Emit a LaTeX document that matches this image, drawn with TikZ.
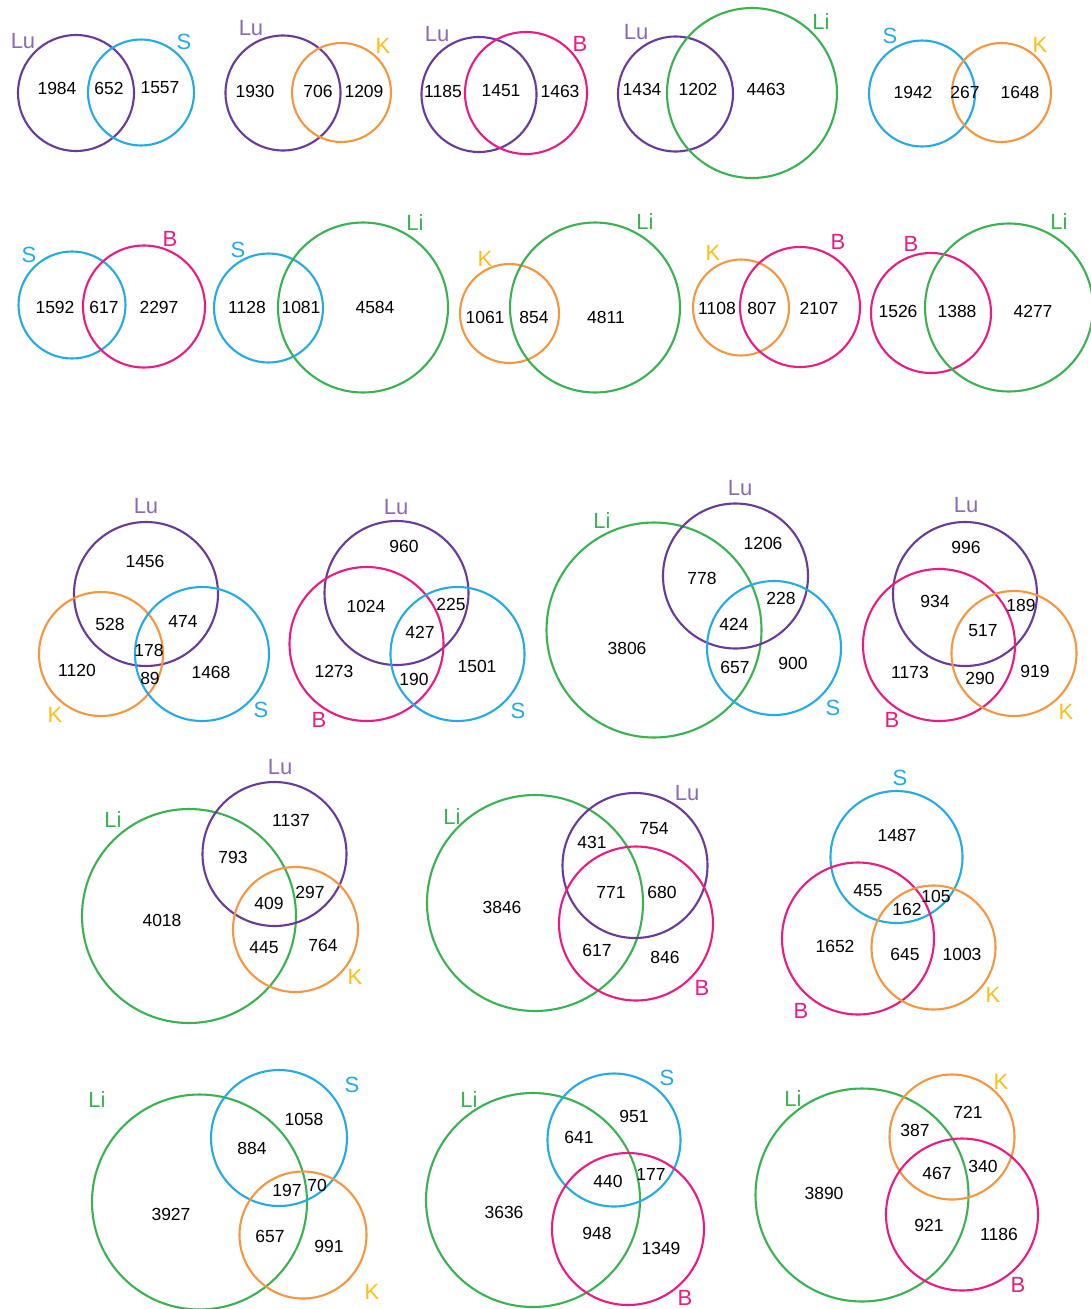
\documentclass[tikz,border=0pt]{standalone}
\usepackage{fontspec}
\setmainfont{Liberation Sans}
\definecolor{luC}{RGB}{106,58,152}
\definecolor{luT}{RGB}{140,104,182}
\definecolor{sC}{RGB}{38,170,226}
\definecolor{kC}{RGB}{247,150,64}
\definecolor{kT}{RGB}{255,190,20}
\definecolor{bC}{RGB}{232,28,132}
\definecolor{liC}{RGB}{58,178,82}
\newcommand\vcirc[4]{\draw[#1] (#2,#3) circle [radius=#4pt];}
\newcommand\vnum[4]{\node[numtxt] (#1) at (#2,#3) {#4};}
\newcommand\vlbl[5]{\node[lbltxt,#2] (#1) at (#3,#4) {#5};}
\begin{document}
\begin{tikzpicture}[x=1pt,y=-1pt,
  ring/.style={line width=2.1pt},
  lu/.style={ring,draw=luC}, ss/.style={ring,draw=sC}, kk/.style={ring,draw=kC},
  bb/.style={ring,draw=bC}, li/.style={ring,draw=liC},
  numtxt/.style={inner sep=0pt,font=\fontsize{17.5}{20}\selectfont,text=black},
  lbltxt/.style={inner sep=0pt,font=\fontsize{22}{26}\selectfont},
  tlu/.style={text=luT}, ts/.style={text=sC}, tk/.style={text=kT},
  tb/.style={text=bC}, tli/.style={text=liC}]
\useasboundingbox[fill=white] (0,0) rectangle (1090,1309);
% ---------- Row 1 ----------
% D1
\vcirc{lu}{76}{93}{58} \vcirc{ss}{141}{92.5}{53}
\vlbl{a1}{tlu}{23}{41}{Lu} \vlbl{a2}{ts}{184}{42}{S}
\vnum{a3}{57}{88}{1984} \vnum{a4}{109}{88}{652} \vnum{a5}{160}{88}{1557}
% D2
\vcirc{lu}{283}{93}{57.5} \vcirc{kk}{341.5}{92.5}{49.5}
\vlbl{b1}{tlu}{251}{28}{Lu} \vlbl{b2}{tk}{383}{46}{K}
\vnum{b3}{255}{91}{1930} \vnum{b4}{318}{91}{706} \vnum{b5}{364}{91}{1209}
% D3
\vcirc{lu}{479}{94.5}{57.5} \vcirc{bb}{526}{93}{61}
\vlbl{c1}{tlu}{437}{34}{Lu} \vlbl{c2}{tb}{580}{44}{B}
\vnum{c3}{443}{91}{1185} \vnum{c4}{501}{91}{1451} \vnum{c5}{560}{91}{1463}
% D4
\vcirc{lu}{675.5}{94}{57.5} \vcirc{li}{752}{93}{85}
\vlbl{d1}{tlu}{636}{32}{Lu} \vlbl{d2}{tli}{821}{22}{Li}
\vnum{d3}{642}{89}{1434} \vnum{d4}{698}{89}{1202} \vnum{d5}{766}{89}{4463}
% D5
\vcirc{ss}{922}{93.5}{53} \vcirc{kk}{1001.5}{92.5}{49.5}
\vlbl{e1}{ts}{890}{36}{S} \vlbl{e2}{tk}{1040}{45}{K}
\vnum{e3}{913}{92}{1942} \vnum{e4}{965}{92}{267} \vnum{e5}{1020}{92}{1648}
% ---------- Row 2 ----------
% D6
\vcirc{ss}{72}{305}{53.5} \vcirc{bb}{144}{306.5}{61}
\vlbl{f1}{ts}{29}{255}{S} \vlbl{f2}{tb}{170}{239}{B}
\vnum{f3}{55}{307}{1592} \vnum{f4}{104}{307}{617} \vnum{f5}{159}{307}{2297}
% D7
\vcirc{ss}{268.5}{308}{54.5} \vcirc{li}{363}{307.5}{85}
\vlbl{g1}{ts}{238}{250}{S} \vlbl{g2}{tli}{415}{223}{Li}
\vnum{g3}{247}{307}{1128} \vnum{g4}{301}{307}{1081} \vnum{g5}{375}{307}{4584}
% D8
\vcirc{kk}{509.5}{313.5}{49.5} \vcirc{li}{595}{307.5}{85}
\vlbl{h1}{tk}{485}{259}{K} \vlbl{h2}{tli}{645}{222}{Li}
\vnum{h3}{485}{317}{1061} \vnum{h4}{534}{317}{854} \vnum{h5}{606}{317}{4811}
% D9
\vcirc{kk}{741}{307.5}{48} \vcirc{bb}{800}{307}{60}
\vlbl{i1}{tk}{713}{253}{K} \vlbl{i2}{tb}{838}{242}{B}
\vnum{i3}{717}{308}{1108} \vnum{i4}{762}{308}{807} \vnum{i5}{819}{308}{2107}
% D10
\vcirc{bb}{931}{313}{60} \vcirc{li}{1009}{307.5}{84}
\vlbl{j1}{tb}{911}{244}{B} \vlbl{j2}{tli}{1059}{222}{Li}
\vnum{j3}{898}{311}{1526} \vnum{j4}{957}{311}{1388} \vnum{j5}{1033}{311}{4277}
% ---------- Row 3 ----------
% D11
\vcirc{lu}{146}{594}{72} \vcirc{kk}{101}{654}{62} \vcirc{ss}{202}{654}{67}
\vlbl{k1}{tlu}{146}{506}{Lu} \vlbl{k2}{tk}{55}{715}{K} \vlbl{k3}{ts}{261}{710}{S}
\vnum{k4}{145}{561}{1456} \vnum{k5}{110}{624}{528} \vnum{k6}{183}{621}{474}
\vnum{k7}{149}{650}{178} \vnum{k8}{150}{678}{89} \vnum{k9}{77}{670}{1120}
\vnum{k10}{211}{672}{1468}
% D12
\vcirc{lu}{396.5}{593}{72} \vcirc{bb}{366.5}{644}{77} \vcirc{ss}{457.5}{654}{67}
\vlbl{l1}{tlu}{396}{507}{Lu} \vlbl{l2}{tb}{319}{720}{B} \vlbl{l3}{ts}{518}{711}{S}
\vnum{l4}{404}{546}{960} \vnum{l5}{366}{606}{1024} \vnum{l6}{451}{604}{225}
\vnum{l7}{420}{632}{427} \vnum{l8}{334}{671}{1273} \vnum{l9}{414}{679}{190}
\vnum{l10}{477}{666}{1501}
% D13
\vcirc{li}{654}{630}{107.5} \vcirc{lu}{735.5}{576}{72.5} \vcirc{ss}{774}{648}{67}
\vlbl{m1}{tlu}{740}{488}{Lu} \vlbl{m2}{tli}{602}{521}{Li} \vlbl{m3}{ts}{833}{708}{S}
\vnum{m4}{763}{543}{1206} \vnum{m5}{702}{578}{778} \vnum{m6}{781}{598}{228}
\vnum{m7}{734}{624}{424} \vnum{m8}{627}{648}{3806} \vnum{m9}{735}{667}{657}
\vnum{m10}{793}{663}{900}
% D14
\vcirc{lu}{965}{594}{72} \vcirc{bb}{939}{645}{76} \vcirc{kk}{1014}{653.5}{62.5}
\vlbl{n1}{tlu}{966}{505}{Lu} \vlbl{n2}{tb}{892}{720}{B} \vlbl{n3}{tk}{1066}{712}{K}
\vnum{n4}{966}{547}{996} \vnum{n5}{935}{601}{934} \vnum{n6}{1021}{605}{189}
\vnum{n7}{983}{631}{517} \vnum{n8}{910}{672}{1173} \vnum{n9}{980}{678}{290}
\vnum{n10}{1035}{671}{919}
% ---------- Row 4 ----------
% D15
\vcirc{li}{189}{916}{107} \vcirc{lu}{274.5}{854}{72} \vcirc{kk}{295.5}{929.5}{62.5}
\vlbl{o1}{tlu}{280}{767}{Lu} \vlbl{o2}{tli}{113}{820}{Li} \vlbl{o3}{tk}{355}{977}{K}
\vnum{o4}{291}{820}{1137} \vnum{o5}{233}{857}{793} \vnum{o6}{310}{892}{297}
\vnum{o7}{269}{903}{409} \vnum{o8}{162}{920}{4018} \vnum{o9}{264}{948}{445}
\vnum{o10}{323}{945}{764}
% D16
\vcirc{li}{535}{903}{108} \vcirc{lu}{635}{865.5}{72.5} \vcirc{bb}{636}{923.5}{77}
\vlbl{p1}{tlu}{687}{793}{Lu} \vlbl{p2}{tli}{452}{817}{Li} \vlbl{p3}{tb}{702}{988}{B}
\vnum{p4}{654}{829}{754} \vnum{p5}{592}{842}{431} \vnum{p6}{611}{892}{771}
\vnum{p7}{662}{892}{680} \vnum{p8}{502}{907}{3846} \vnum{p9}{597}{950}{617}
\vnum{p10}{665}{957}{846}
% D17
\vcirc{ss}{896.5}{857}{66} \vcirc{bb}{858}{938.5}{76} \vcirc{kk}{933.5}{947.5}{62}
\vlbl{q1}{ts}{900}{778}{S} \vlbl{q2}{tb}{801}{1011}{B} \vlbl{q3}{tk}{993}{995}{K}
\vnum{q4}{897}{835}{1487} \vnum{q5}{868}{891}{455} \vnum{q6}{936}{896}{105}
\vnum{q7}{907}{909}{162} \vnum{q8}{835}{946}{1652} \vnum{q9}{905}{954}{645}
\vnum{q10}{962}{954}{1003}
% ---------- Row 5 ----------
% D18
\vcirc{li}{199.5}{1202}{107.5} \vcirc{ss}{279}{1138}{68} \vcirc{kk}{303}{1235}{63.5}
\vlbl{r1}{ts}{352}{1085}{S} \vlbl{r2}{tli}{97}{1100}{Li} \vlbl{r3}{tk}{372}{1292}{K}
\vnum{r4}{304}{1119}{1058} \vnum{r5}{252}{1148}{884} \vnum{r6}{287}{1190}{197}
\vnum{r7}{317}{1185}{70} \vnum{r8}{171}{1214}{3927} \vnum{r9}{270}{1236}{657}
\vnum{r10}{329}{1246}{991}
% D19
\vcirc{li}{533}{1200}{107} \vcirc{ss}{614}{1140}{66.5} \vcirc{bb}{628}{1229}{76}
\vlbl{s1}{ts}{667}{1078}{S} \vlbl{s2}{tli}{469}{1100}{Li} \vlbl{s3}{tb}{685}{1298}{B}
\vnum{s4}{634}{1116}{951} \vnum{s5}{579}{1137}{641} \vnum{s6}{608}{1181}{440}
\vnum{s7}{651}{1174}{177} \vnum{s8}{504}{1212}{3636} \vnum{s9}{597}{1233}{948}
\vnum{s10}{661}{1248}{1349}
% D20
\vcirc{li}{862}{1195}{106.5} \vcirc{kk}{952}{1137}{62.5} \vcirc{bb}{962}{1214.5}{76}
\vlbl{t1}{tk}{1001}{1082}{K} \vlbl{t2}{tli}{793}{1099}{Li} \vlbl{t3}{tb}{1018}{1285}{B}
\vnum{t4}{968}{1112}{721} \vnum{t5}{915}{1130}{387} \vnum{t6}{937}{1173}{467}
\vnum{t7}{983}{1166}{340} \vnum{t8}{824}{1193}{3890} \vnum{t9}{929}{1225}{921}
\vnum{t10}{999}{1234}{1186}
\end{tikzpicture}
\end{document}
